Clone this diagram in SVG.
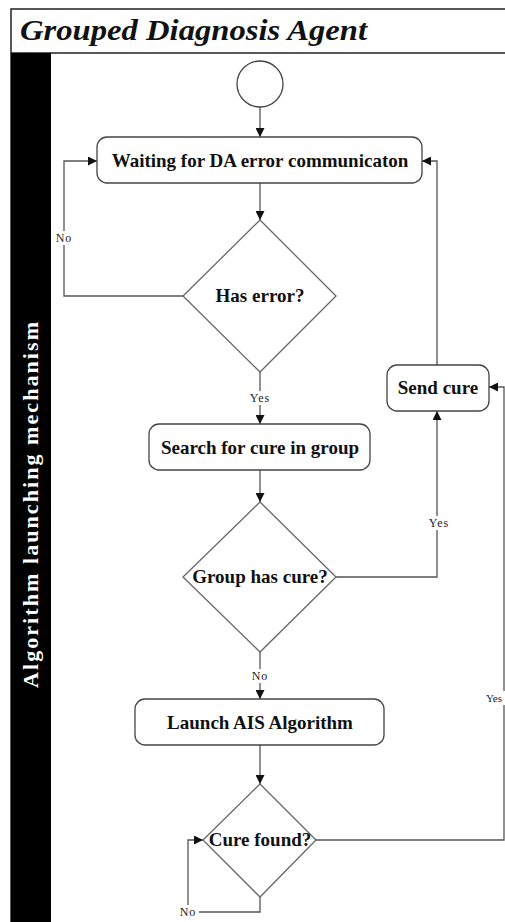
<svg xmlns="http://www.w3.org/2000/svg" width="505" height="922" viewBox="0 0 505 922">
  <style>
    .frame { fill: none; stroke: #222; stroke-width: 1.5; }
    .box { fill: #fff; stroke: #444; stroke-width: 1.3; }
    .dia { fill: #fff; stroke: #666; stroke-width: 1.3; }
    .wire { fill: none; stroke: #555; stroke-width: 1.3; }
    .lbl { font-family: "Liberation Serif", "Times New Roman", serif; font-weight: bold; font-size: 19px; fill: #111; text-anchor: middle; }
    .small { font-family: "Liberation Serif", "Times New Roman", serif; font-size: 12px; fill: #222; text-anchor: middle; letter-spacing: 1px; }
    .edge { text-anchor: end; letter-spacing: 0; font-size: 11px; }
    .tag { fill: #fff; }
  </style>
  <defs>
    <marker id="arrow" viewBox="0 0 10 10" refX="10" refY="5" markerWidth="9" markerHeight="9" markerUnits="userSpaceOnUse" orient="auto">
      <path d="M0,0 L10,5 L0,10 Z" fill="#111"/>
    </marker>
  </defs>
  <rect width="505" height="922" fill="#fff"/>

  <!-- pool frame and title -->
  <g id="pool">
    <path class="frame" d="M505,9 H11 V922"/>
    <line class="frame" x1="11" y1="53" x2="505" y2="53"/>
    <text x="20" y="40" font-family="Liberation Serif, Times New Roman, serif" font-weight="bold" font-style="italic" font-size="29" textLength="347" lengthAdjust="spacingAndGlyphs" fill="#111">Grouped Diagnosis Agent</text>
  </g>

  <!-- lane header -->
  <g id="lane">
    <rect x="11" y="53" width="40" height="869" fill="#000"/>
    <text transform="translate(38,505) rotate(-90)" font-family="Liberation Serif, Times New Roman, serif" font-weight="bold" font-size="22" fill="#fff" text-anchor="middle" textLength="366">Algorithm launching mechanism</text>
  </g>

  <!-- connectors -->
  <g id="connectors">
    <line class="wire" x1="260" y1="107" x2="260" y2="137" marker-end="url(#arrow)"/>
    <line class="wire" x1="260" y1="183" x2="260" y2="220" marker-end="url(#arrow)"/>
    <polyline class="wire" points="183,296 64,296 64,161 97,161" marker-end="url(#arrow)"/>
    <line class="wire" x1="260" y1="372" x2="260" y2="424" marker-end="url(#arrow)"/>
    <polyline class="wire" points="437,365 437,161 422,161" marker-end="url(#arrow)"/>
    <line class="wire" x1="260" y1="470" x2="260" y2="502" marker-end="url(#arrow)"/>
    <polyline class="wire" points="336,577 437,577 437,411" marker-end="url(#arrow)"/>
    <line class="wire" x1="260" y1="652" x2="260" y2="699" marker-end="url(#arrow)"/>
    <line class="wire" x1="260" y1="745" x2="260" y2="784" marker-end="url(#arrow)"/>
    <polyline class="wire" points="316,840 504,840 504,387 489,387" marker-end="url(#arrow)"/>
    <polyline class="wire" points="260,897 260,912 188,912 188,840 203,840" marker-end="url(#arrow)"/>

    <rect class="tag" x="53" y="231" width="22" height="14"/>
    <text class="small" x="64" y="242">No</text>
    <rect class="tag" x="245" y="391" width="30" height="14"/>
    <text class="small" x="260" y="402">Yes</text>
    <rect class="tag" x="423" y="516" width="30" height="14"/>
    <text class="small" x="439" y="527">Yes</text>
    <rect class="tag" x="249" y="669" width="22" height="14"/>
    <text class="small" x="260" y="680">No</text>
    <rect class="tag" x="484" y="691" width="21" height="14"/>
    <text class="small edge" x="502" y="702">Yes</text>
    <rect class="tag" x="177" y="905" width="22" height="14"/>
    <text class="small" x="188" y="916">No</text>
  </g>

  <g id="start">
    <circle cx="260" cy="84" r="23" fill="#fff" stroke="#444" stroke-width="1.3"/>
  </g>

  <g id="waiting">
    <rect class="box" x="97" y="137" width="325" height="46" rx="10"/>
    <text class="lbl" x="260" y="167">Waiting for DA error communicaton</text>
  </g>

  <g id="has-error">
    <polygon class="dia" points="260,220 336,296 260,372 183,296"/>
    <text class="lbl" x="260" y="302">Has error?</text>
  </g>

  <g id="send-cure">
    <rect class="box" x="387" y="365" width="102" height="46" rx="10"/>
    <text class="lbl" x="438" y="394">Send cure</text>
  </g>

  <g id="search">
    <rect class="box" x="149" y="424" width="221" height="46" rx="10"/>
    <text class="lbl" x="260" y="454">Search for cure in group</text>
  </g>

  <g id="group-has-cure">
    <polygon class="dia" points="260,502 336,577 260,652 183,577"/>
    <text class="lbl" x="260" y="583">Group has cure?</text>
  </g>

  <g id="launch">
    <rect class="box" x="135" y="699" width="249" height="46" rx="10"/>
    <text class="lbl" x="260" y="729">Launch AIS Algorithm</text>
  </g>

  <g id="cure-found">
    <polygon class="dia" points="260,784 316,840 260,897 203,840"/>
    <text class="lbl" x="260" y="846">Cure found?</text>
  </g>
</svg>
